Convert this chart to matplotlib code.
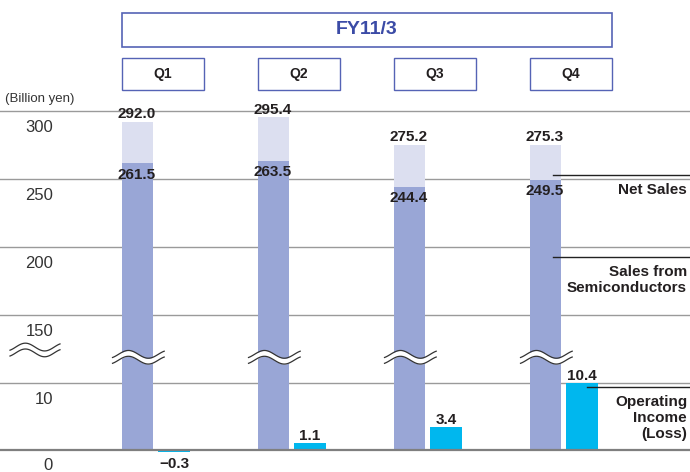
import numpy as np
import matplotlib
matplotlib.use('Agg')
import matplotlib.pyplot as plt
import matplotlib.transforms as mtrans
from matplotlib.patches import Rectangle

plt.rcParams['font.family'] = 'Liberation Sans'

# data (billion yen)
quarters = ['Q1', 'Q2', 'Q3', 'Q4']
net_sales = [292.0, 295.4, 275.2, 275.3]
semi_sales = [261.5, 263.5, 244.4, 249.5]
op_income = [-0.3, 1.1, 3.4, 10.4]
tick_vals = [300, 250, 200, 150, 10, 0]
title = 'FY11/3'

c_net = '#dcdff0'
c_semi = '#99a6d6'
c_op = '#00b7ee'
c_txt = '#231f20'
c_blue = '#3b4ba6'
c_box = '#5563b5'
c_grid = '#9a9a9a'

# broken axis: 0-10 stretched, 10-150 squeezed, 150+ normal
V = [-50, 0, 10, 150, 500]
T = [-335, 0, 67, 135, 611]
fwd = lambda v: np.interp(v, V, T)
inv = lambda t: np.interp(t, T, V)

fig = plt.figure(figsize=(6.9, 4.72), dpi=100)
ax = fig.add_axes([0, 0, 1, 1])
ax.set_yscale('function', functions=(fwd, inv))
ax.set_ylim(inv(-22), inv(450))
ax.set_xlim(-155.5 / 136, (690 - 155.5) / 136)
ax.axis('off')

x = np.arange(len(quarters))
off, w = 0.136, 0.228
xs_semi = x - off
xs_op = x + off

# grid
for v in tick_vals[:-1]:
    ax.axhline(v, color=c_grid, lw=1.0, zorder=1)
ax.axhline(0, color='#7f7f7f', lw=1.6, zorder=3)

ax.bar(xs_semi, np.array(net_sales) - np.array(semi_sales), bottom=semi_sales,
       width=w, color=c_net, zorder=2)
ax.bar(xs_semi, semi_sales, width=w, color=c_semi, zorder=2)
ax.bar(xs_op, op_income, width=w, color=c_op, zorder=2)

# value labels
for xi, v in zip(xs_semi, net_sales):
    ax.annotate(f'{v:.1f}', (xi, v), xytext=(0, 2.5), textcoords='offset points',
                ha='center', va='baseline', fontsize=11, fontweight='bold', color=c_txt, zorder=5)
for xi, v in zip(xs_semi, semi_sales):
    ax.annotate(f'{v:.1f}', (xi, v), xytext=(0, -3), textcoords='offset points',
                ha='center', va='top', fontsize=11, fontweight='bold', color=c_txt, zorder=5)
for xi, v in zip(xs_op, op_income):
    s = f'{v:.1f}'.replace('-', '\u2212')
    if v >= 0:
        ax.annotate(s, (xi, v), xytext=(0, 2), textcoords='offset points',
                    ha='center', va='baseline', fontsize=11, fontweight='bold', color=c_txt, zorder=5)
    else:
        ax.annotate(s, (xi, 0), xytext=(0, -5), textcoords='offset points',
                    ha='center', va='top', fontsize=11, fontweight='bold', color=c_txt, zorder=5)

# wavy breaks (tilde shape)
def wave(x0, x1, yc, amp=8.0, gap=12.0):
    xx = np.linspace(x0, x1, 80)
    th = -0.3 * np.pi + 2.6 * np.pi * (xx - x0) / (x1 - x0)
    s = amp * np.sin(th)
    hi = yc + gap / 2 + s
    lo = yc - gap / 2 + s
    ax.fill_between(xx, lo, hi, color='white', zorder=3, lw=0)
    ax.plot(xx, hi, color='#333333', lw=0.9, zorder=4)
    ax.plot(xx, lo, color='#333333', lw=0.9, zorder=4)

for xi in xs_semi:
    wave(xi - 0.18, xi + 0.2, 63)
wave((10 - 155.5) / 136, (60 - 155.5) / 136, 78)

# y tick labels (below their gridlines)
ytrans = mtrans.blended_transform_factory(ax.transAxes, ax.transData)
for v in tick_vals:
    dy = -12 if v != 0 else -11
    ax.annotate(str(v), (53 / 690, v), xycoords=ytrans, xytext=(0, dy), textcoords='offset points',
                ha='right', va='center', fontsize=12, color='#333333')
fig.text(5 / 690, 1 - 99 / 472, '(Billion yen)', ha='left', va='center', fontsize=9.5, color='#333333')

# header boxes
htrans = mtrans.blended_transform_factory(ax.transData, fig.transFigure)
fy = Rectangle((x[0] - 0.25, 1 - 47 / 472), x[-1] - x[0] + 0.61, 34 / 472, transform=htrans,
               fill=False, ec=c_box, lw=1.2)
fig.add_artist(fy)
fig.text(0.5 * (x[0] - 0.25 + x[-1] + 0.36), 1 - 30 / 472, title, transform=htrans,
         ha='center', va='center', fontsize=14, fontweight='bold', color=c_blue)
for xi, q in zip(x, quarters):
    fig.add_artist(Rectangle((xi - 0.25, 1 - 90 / 472), 0.61, 32 / 472, transform=htrans,
                             fill=False, ec=c_box, lw=1.0))
    fig.text(xi + 0.055, 1 - 74 / 472, q, transform=htrans, ha='center', va='center',
             fontsize=10, fontweight='bold', color=c_txt)

# legend leaders
xr = ax.get_xlim()[1]
leaders = [(253, x[-1] - off + 0.06, 'Net Sales'),
           (192.6, x[-1] - off + 0.06, 'Sales from\nSemiconductors'),
           (9.4, x[-1] + off + 0.04, 'Operating\nIncome\n(Loss)')]
for v, x0, lab in leaders:
    ax.plot([x0, xr], [v, v], color='#222222', lw=1.0, zorder=4)
    ax.annotate(lab, (687 / 690, v), xycoords=ytrans, xytext=(0, -5.5), textcoords='offset points',
                ha='right', va='top', fontsize=11, fontweight='bold', color=c_txt,
                linespacing=1.2, multialignment='right')

fig.savefig('out.png', dpi=100)
